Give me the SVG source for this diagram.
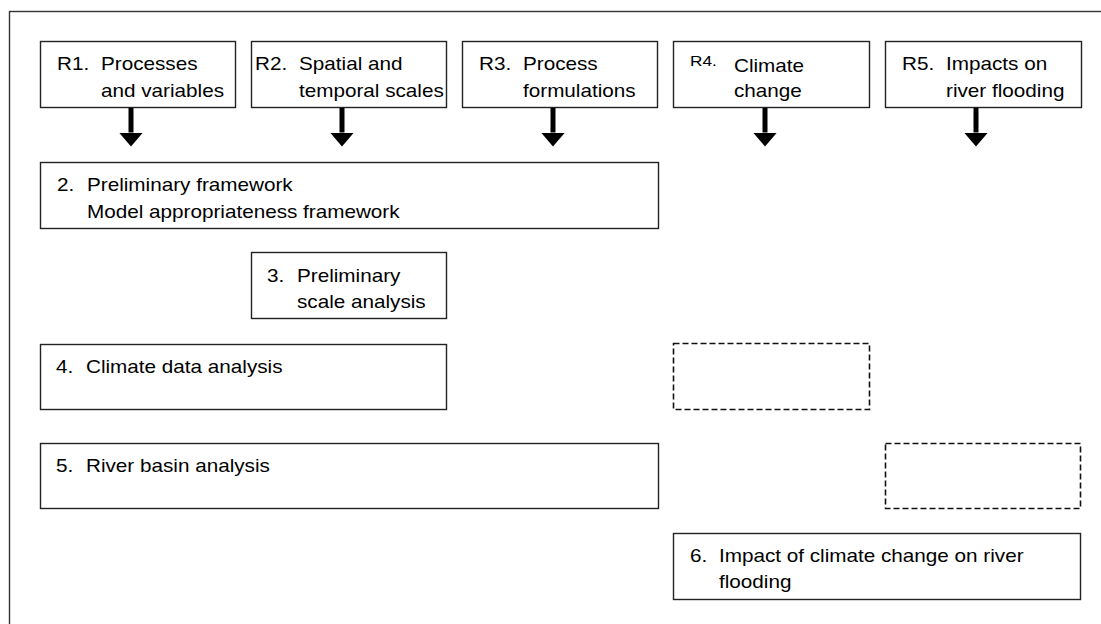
<svg xmlns="http://www.w3.org/2000/svg" width="1101" height="624" viewBox="0 0 1101 624">
<defs>
<style>
.box{fill:#fff;stroke:#222;stroke-width:1.4}
.dash{fill:none;stroke:#111;stroke-width:1.6;stroke-dasharray:6 3}
.frame{fill:#fff;stroke:#333;stroke-width:1.4}
text{font-family:"Liberation Sans",Arial,sans-serif;font-size:18px;fill:#000}
.small{font-size:15px}
.shaft{stroke:#000;stroke-width:5;fill:none}
</style>
<marker id="head" viewBox="0 -12 14 24" markerWidth="14" markerHeight="24" refX="0" refY="0" orient="auto" markerUnits="userSpaceOnUse">
<path d="M0,-12 L14,0 L0,12 Z" fill="#000"/>
</marker>
</defs>
<rect class="frame" x="9.5" y="11.5" width="1100" height="700"/>
<g id="R1">
<rect class="box" x="40.5" y="41.5" width="195" height="66"/>
<text transform="translate(57,70) scale(1.15,1)">R1.</text>
<text transform="translate(101,70) scale(1.15,1)">Processes</text>
<text transform="translate(101,97) scale(1.15,1)">and variables</text>
</g>
<g id="R2">
<rect class="box" x="251.5" y="41.5" width="195" height="66"/>
<text transform="translate(255,70) scale(1.15,1)">R2.</text>
<text transform="translate(299,70) scale(1.15,1)">Spatial and</text>
<text transform="translate(299,97) scale(1.15,1)">temporal scales</text>
</g>
<g id="R3">
<rect class="box" x="462.5" y="41.5" width="195" height="66"/>
<text transform="translate(479,70) scale(1.15,1)">R3.</text>
<text transform="translate(523,70) scale(1.15,1)">Process</text>
<text transform="translate(523,97) scale(1.15,1)">formulations</text>
</g>
<g id="R4">
<rect class="box" x="673.5" y="41.5" width="196" height="66"/>
<text class="small" transform="translate(690,66) scale(1.15,1)">R4.</text>
<text transform="translate(734,72) scale(1.15,1)">Climate</text>
<text transform="translate(734,97) scale(1.15,1)">change</text>
</g>
<g id="R5">
<rect class="box" x="885.5" y="41.5" width="196" height="66"/>
<text transform="translate(902,70) scale(1.15,1)">R5.</text>
<text transform="translate(946,70) scale(1.15,1)">Impacts on</text>
<text transform="translate(946,97) scale(1.15,1)">river flooding</text>
</g>
<g id="n2">
<rect class="box" x="40.5" y="162.5" width="618" height="66"/>
<text transform="translate(57,191) scale(1.15,1)">2.</text>
<text transform="translate(87,191) scale(1.15,1)">Preliminary framework</text>
<text transform="translate(87,218) scale(1.15,1)">Model appropriateness framework</text>
</g>
<g id="n3">
<rect class="box" x="251.5" y="252.5" width="195" height="66"/>
<text transform="translate(267,282) scale(1.15,1)">3.</text>
<text transform="translate(297,282) scale(1.15,1)">Preliminary</text>
<text transform="translate(297,308) scale(1.15,1)">scale analysis</text>
</g>
<g id="n4">
<rect class="box" x="40.5" y="344.5" width="406" height="65"/>
<text transform="translate(56,373) scale(1.15,1)">4.</text>
<text transform="translate(86,373) scale(1.15,1)">Climate data analysis</text>
</g>
<g id="d4">
<rect class="dash" x="673.5" y="343.5" width="196" height="66"/>
</g>
<g id="n5">
<rect class="box" x="40.5" y="443.5" width="618" height="65"/>
<text transform="translate(56,472) scale(1.15,1)">5.</text>
<text transform="translate(86,472) scale(1.15,1)">River basin analysis</text>
</g>
<g id="d5">
<rect class="dash" x="885.5" y="443.5" width="195" height="65"/>
</g>
<g id="n6">
<rect class="box" x="673.5" y="533.5" width="407" height="66"/>
<text transform="translate(690,562) scale(1.15,1)">6.</text>
<text transform="translate(719,562) scale(1.15,1)">Impact of climate change on river</text>
<text transform="translate(719,588) scale(1.15,1)">flooding</text>
</g>
<g id="connectors">
<line class="shaft" x1="131" y1="108" x2="131" y2="132.5" marker-end="url(#head)"/>
<line class="shaft" x1="342" y1="108" x2="342" y2="132.5" marker-end="url(#head)"/>
<line class="shaft" x1="553" y1="108" x2="553" y2="132.5" marker-end="url(#head)"/>
<line class="shaft" x1="765" y1="108" x2="765" y2="132.5" marker-end="url(#head)"/>
<line class="shaft" x1="976" y1="108" x2="976" y2="132.5" marker-end="url(#head)"/>
</g>
</svg>
